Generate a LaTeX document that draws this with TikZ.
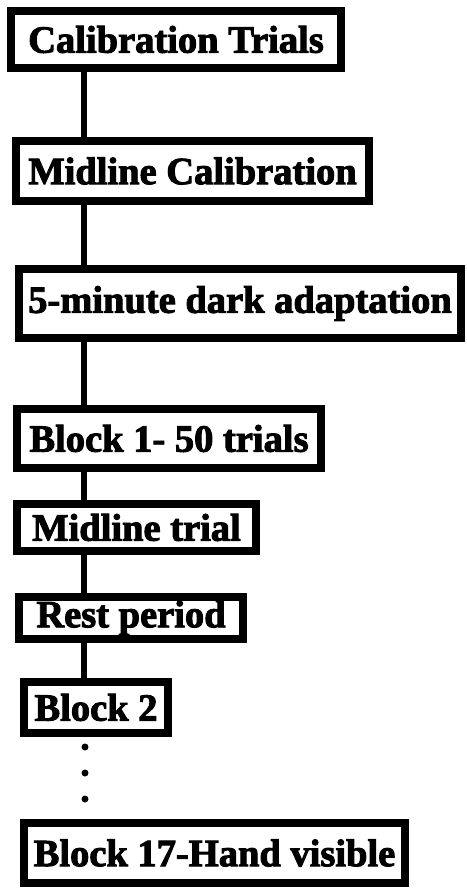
\documentclass[tikz,border=0pt]{standalone}
\usepackage{fontspec}
\setmainfont{Liberation Serif}
\newfontfamily\heavyfont[FakeBold=2.5]{Liberation Serif Bold}
\begin{document}
\begin{tikzpicture}[x=1pt,y=-1pt,
  stepbox/.style={draw=black, line width=8pt, inner sep=0pt, outer sep=0pt,
    font=\heavyfont\fontsize{38.5}{42}\selectfont, text=black},
  link/.style={draw=black, line width=6pt}]
\useasboundingbox[fill=white] (0,0) rectangle (466,888);
\node[stepbox, minimum width=330pt, minimum height=57pt] (b1) at (176,39.5) {Calibration Trials};
\node[stepbox, minimum width=353pt, minimum height=60pt] (b2) at (192.5,171) {Midline Calibration};
\node[stepbox, minimum width=442pt, minimum height=69pt] (b3) at (240,303.5) {5-minute dark adaptation};
\node[stepbox, minimum width=304pt, minimum height=59pt] (b4) at (169,438.5) {Block 1- 50 trials};
\node[stepbox, minimum width=239pt, minimum height=47pt] (b5) at (136.5,527.5) {Midline trial};
\node[stepbox, minimum width=224pt, minimum height=42pt] (b6) at (131,618) {Rest period};
\node[stepbox, minimum width=144pt, minimum height=51pt] (b7) at (96,707.5) {Block 2};
\node[stepbox, minimum width=381pt, minimum height=60pt] (b8) at (214.5,853) {Block 17-Hand visible};
\coordinate (cx) at (84,0);
\draw[link] (b1.south -| cx) -- (b2.north -| cx);
\draw[link] (b2.south -| cx) -- (b3.north -| cx);
\draw[link] (b3.south -| cx) -- (b4.north -| cx);
\draw[link] (b4.south -| cx) -- (b5.north -| cx);
\draw[link] (b5.south -| cx) -- (b6.north -| cx);
\draw[link] (b6.south -| cx) -- (b7.north -| cx);
\fill (85,747) circle (3.5pt);
\fill (85,773) circle (3.5pt);
\fill (85,799) circle (3.5pt);
\end{tikzpicture}
\end{document}
